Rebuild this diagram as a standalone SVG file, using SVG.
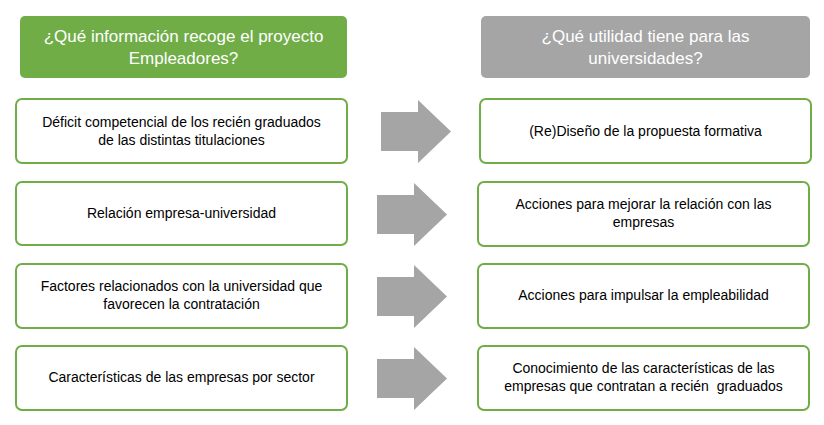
<svg xmlns="http://www.w3.org/2000/svg" width="824" height="425" viewBox="0 0 824 425">
<style>
text{font-family:"Liberation Sans",Arial,sans-serif;text-anchor:middle}
.b{fill:#fff;stroke:#70ad47;stroke-width:2}
.t{font-size:14px;fill:#000}
.h{font-size:17px;fill:#fff}
.a{fill:#a5a5a5}
</style>
<rect width="824" height="425" fill="#fff"/>
<g id="h1"><rect x="20" y="16" width="327" height="62" rx="5" fill="#70ad47"/><text class="h" x="183.5" y="42">¿Qué información recoge el proyecto</text><text class="h" x="183.5" y="64">Empleadores?</text></g>
<g id="h2"><rect x="481" y="16" width="329" height="62" rx="5" fill="#a5a5a5"/><text class="h" x="645.5" y="42">¿Qué utilidad tiene para las</text><text class="h" x="645.5" y="64">universidades?</text></g>
<g id="l1"><rect class="b" x="16" y="99" width="331" height="64" rx="6"/><text class="t" x="181.5" y="127">Déficit competencial de los recién graduados</text><text class="t" x="181.5" y="145">de las distintas titulaciones</text></g>
<g id="l2"><rect class="b" x="16" y="182" width="331" height="63" rx="6"/><text class="t" x="181.5" y="218">Relación empresa-universidad</text></g>
<g id="l3"><rect class="b" x="16" y="264" width="331" height="64" rx="6"/><text class="t" x="181.5" y="291">Factores relacionados con la universidad que</text><text class="t" x="181.5" y="309">favorecen la contratación</text></g>
<g id="l4"><rect class="b" x="16" y="346" width="331" height="64" rx="6"/><text class="t" x="181.5" y="382">Características de las empresas por sector</text></g>
<g id="r1"><rect class="b" x="480" y="99" width="331" height="64" rx="6"/><text class="t" x="645.5" y="136">(Re)Diseño de la propuesta formativa</text></g>
<g id="r2"><rect class="b" x="478" y="182" width="331" height="64" rx="6"/><text class="t" x="643.5" y="209">Acciones para mejorar la relación con las</text><text class="t" x="643.5" y="227">empresas</text></g>
<g id="r3"><rect class="b" x="478" y="264" width="331" height="64" rx="6"/><text class="t" x="643.5" y="300">Acciones para impulsar la empleabilidad</text></g>
<g id="r4"><rect class="b" x="478" y="346" width="331" height="64" rx="6"/><text class="t" x="643.5" y="373">Conocimiento de las características de las</text><text class="t" x="643.5" y="391" xml:space="preserve">empresas que contratan a recién  graduados</text></g>
<g id="connectors">
<polygon class="a" points="381,112 418,112 418,100 451,131.5 418,163 418,151 381,151"/>
<polygon class="a" points="377,195 414,195 414,183 447,214.5 414,246 414,234 377,234"/>
<polygon class="a" points="377,277 414,277 414,265 447,296.5 414,328 414,316 377,316"/>
<polygon class="a" points="377,359 414,359 414,347 447,378.5 414,410 414,398 377,398"/>
</g>
</svg>
